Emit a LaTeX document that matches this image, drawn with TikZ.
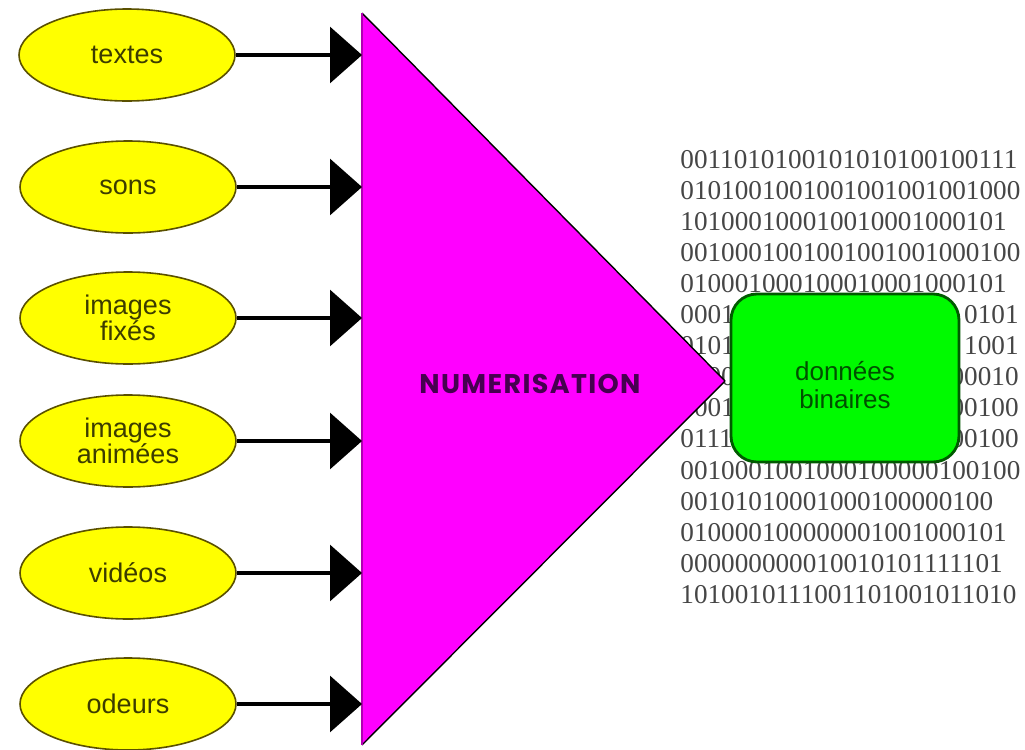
\documentclass[tikz,border=0pt]{standalone}
\usepackage{fontspec}
\setmainfont{Liberation Sans}
\newfontfamily\digitfont{Liberation Serif}
\newfontfamily\titlefont[LetterSpace=5]{Poppins}
\usetikzlibrary{shapes.geometric,arrows.meta}
\definecolor{jaune}{RGB}{255,255,0}
\definecolor{jauneborder}{RGB}{90,80,0}
\definecolor{jaunetext}{RGB}{60,60,0}
\definecolor{magenta2}{RGB}{255,0,255}
\definecolor{violet2}{RGB}{70,0,80}
\definecolor{vert}{RGB}{0,250,0}
\definecolor{vertborder}{RGB}{0,90,0}
\definecolor{verttext}{RGB}{0,80,0}
\definecolor{bitgray}{RGB}{70,70,70}
\tikzset{
  source/.style={ellipse, draw=jauneborder, fill=jaune, line width=0.8pt,
    minimum width=108pt, minimum height=46pt, inner sep=0pt,
    font=\fontsize{13.5}{13}\selectfont, text=jaunetext, align=center},
  feed/.style={line width=1.6pt, -{Triangle[length=16pt,width=28pt]}},
  bits/.style={inner sep=0pt, text=bitgray,
    font=\digitfont\fontsize{13.6}{14}\selectfont},
  result/.style={rectangle, rounded corners=13pt, draw=vertborder, fill=vert,
    line width=1.4pt, minimum width=114pt, minimum height=84pt}
}
\begin{document}
\begin{tikzpicture}[x=0.5pt,y=-0.5pt]
\useasboundingbox (0,0) rectangle (1025,750);
\fill[white] (0,0) rectangle (1025,750);

% binary stream: full rows above and below the output box
\foreach \bitline/\i in {
  0011010100101010100100111/0,
  0101001001001001001001000/1,
  101000100010010001000101/2,
  0010001001001001001000100/3,
  010001000100010001000101/4,
  0010001001000100000100100/10,
  00101010001000100000100/11,
  010000100000001001000101/12,
  000000000010010101111101/13,
  1010010111001101001011010/14}
  \node[bits, anchor=base west] (b\i) at (680,{168+31.1*\i}) {\bitline};

% rows cut by the output box: only their two ends are left visible
\foreach \lft/\rgt/\i in {0001/0101/5, 0101/1001/6, 0100/00010/7, 0001/00100/8, 0111/00100/9}{
  \node[bits, anchor=base west] (bl\i) at (680,{168+31.1*\i}) {\lft};
  \node[bits, anchor=base east] (br\i) at (1019,{168+31.1*\i}) {\rgt};
}

% digitisation stage
\coordinate (tl) at (362,13);
\coordinate (bl) at (362,745);
\coordinate (apex) at (725,381);
\fill[magenta2] (tl) -- (apex) -- (bl) -- cycle;
\draw[line width=0.7pt, line join=round] (tl) -- (apex) -- (bl);
\draw[line width=1.2pt, magenta2!70!black] (tl) -- (bl);
\node[font=\titlefont\bfseries\fontsize{13.5}{14}\selectfont, text=violet2] (num) at (530,384) {NUMERISATION};

% sources
\node[source] (s1) at (127,55) {textes};
\node[source] (s2) at (128,187) {sons};
\node[source] (s3) at (128,318) {images\\fixés};
\node[source] (s4) at (128,441) {images\\animées};
\node[source] (s5) at (128,573) {vidéos};
\node[source] (s6) at (128,704) {odeurs};

\foreach \k/\y in {1/55,2/187,3/318,4/441,5/573,6/704}{
  \coordinate (in\k) at (362,\y);
  \draw[feed] (s\k.east) -- (in\k);
}

% output
\node[result] (out) at (845,378) {};
\node[font=\fontsize{13}{14}\selectfont, text=verttext, align=center] (outlbl) at (845,385) {données\\binaires};
\end{tikzpicture}
\end{document}
